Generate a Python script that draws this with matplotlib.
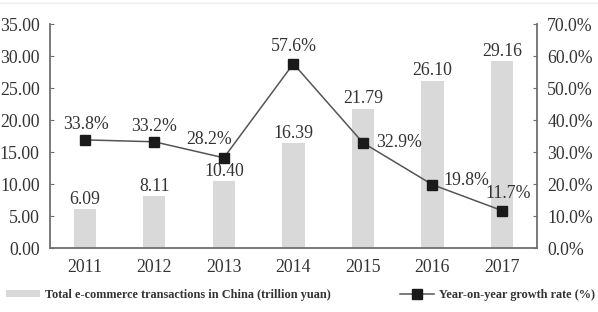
import matplotlib
matplotlib.use("Agg")
import matplotlib.pyplot as plt
from matplotlib.patches import Patch
from matplotlib.lines import Line2D

years = ["2011", "2012", "2013", "2014", "2015", "2016", "2017"]
transactions = [6.09, 8.11, 10.40, 16.39, 21.79, 26.10, 29.16]
growth = [33.8, 33.2, 28.2, 57.6, 32.9, 19.8, 11.7]

plt.rcParams['font.family'] = ['Liberation Serif', 'DejaVu Serif']
txt = '#333333'
spine = '#707070'
fs = 12.8

fig = plt.figure(figsize=(5.98, 3.12), dpi=100)
ax = fig.add_axes([0.0836, 0.205, 0.814, 0.718])
x = range(len(years))

ax.bar(x, transactions, width=0.32, color='#d9d9d9', zorder=1)
ax.set_ylim(0, 35)
ax.set_xlim(-0.5, 6.5)
ax.set_yticks([0, 5, 10, 15, 20, 25, 30, 35])
ax.set_yticklabels([f"{v:.2f}" for v in [0, 5, 10, 15, 20, 25, 30, 35]])
ax.set_xticks(list(x))
ax.set_xticklabels(years)
for i, v in enumerate(transactions):
    ax.annotate(f"{v:.2f}", (i, v), xytext=(0, 10), textcoords='offset pixels',
                ha='center', va='center', fontsize=fs, color=txt)

ax2 = ax.twinx()
ax2.plot(list(x), growth, color='#555555', lw=1.1, marker='s', ms=7,
         mfc='#1a1a1a', mec='#1a1a1a', zorder=3)
ax2.set_ylim(0, 70)
ax2.set_yticks(range(0, 71, 10))
ax2.set_yticklabels([f"{v:.1f}%" for v in range(0, 71, 10)])

offsets = [(1, 15, 'center'), (0, 15, 'center'), (-15, 18, 'center'), (0, 17, 'center'),
           (13, 0, 'left'), (11, 4, 'left'), (6, 17, 'center')]
for i, v in enumerate(growth):
    dx, dy, ha = offsets[i]
    ax2.annotate(f"{v}%", (i, v), xytext=(dx, dy), textcoords='offset pixels',
                 ha=ha, va='center', fontsize=fs, color=txt)

for a in (ax, ax2):
    a.spines['top'].set_visible(False)
    for s in ('left', 'right', 'bottom'):
        a.spines[s].set_color(spine)
        a.spines[s].set_linewidth(1.3)
    a.tick_params(axis='y', direction='in', length=3, color=spine, labelsize=fs, labelcolor=txt, pad=7.5)
ax.tick_params(axis='x', length=0, labelsize=fs, labelcolor=txt, pad=8)
ax.spines['right'].set_visible(False)
ax2.spines['left'].set_visible(False)
ax2.spines['bottom'].set_visible(False)

handles = [Patch(facecolor='#d9d9d9', edgecolor='none'),
           Line2D([], [], color='#555555', lw=1.1, marker='s', ms=7, mfc='#1a1a1a', mec='#1a1a1a')]
labels = ["Total e-commerce transactions in China (trillion yuan)", "Year-on-year growth rate (%)"]
leg = fig.legend(handles, labels, loc='lower left', bbox_to_anchor=(-0.009, 0.0), ncol=2,
                 frameon=False, handlelength=2.8, handleheight=0.55, handletextpad=0.45,
                 columnspacing=5.6, prop={'weight': 'bold', 'size': 8.8})
for t in leg.get_texts():
    t.set_color(txt)

fig.add_artist(Line2D([0, 1], [0.99, 0.99], color='#eeeeee', lw=1))

fig.savefig("out.png", dpi=100)
